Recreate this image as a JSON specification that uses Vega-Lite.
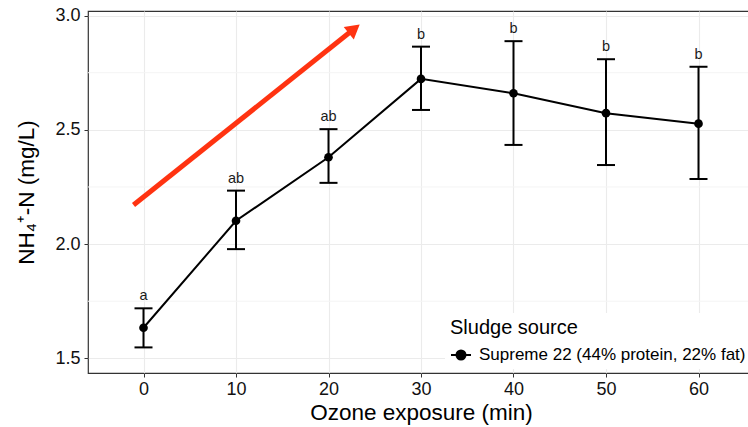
{
  "$schema": "https://vega.github.io/schema/vega-lite/v6.json",
  "width": 666,
  "height": 362,
  "autosize": "none",
  "padding": {"left": 88, "top": 11, "right": 0, "bottom": 54},
  "background": "white",
  "config": {
    "font": "Liberation Sans",
    "view": {"stroke": "#333333", "strokeWidth": 1.2},
    "axis": {
      "gridColor": "#EBEBEB",
      "gridWidth": 1.1,
      "domain": false,
      "tickColor": "#333333",
      "tickSize": 4,
      "labelColor": "#111111",
      "labelFontSize": 18,
      "titleColor": "#000000",
      "titleFontSize": 22.5,
      "titleFontWeight": "normal"
    }
  },
  "datasets": {
    "main": [
      {"time": 0, "mean": 1.634, "lo": 1.548, "hi": 1.719, "group": "a", "source": "Supreme 22 (44% protein, 22% fat)"},
      {"time": 10, "mean": 2.102, "lo": 1.978, "hi": 2.234, "group": "ab", "source": "Supreme 22 (44% protein, 22% fat)"},
      {"time": 20, "mean": 2.380, "lo": 2.268, "hi": 2.503, "group": "ab", "source": "Supreme 22 (44% protein, 22% fat)"},
      {"time": 30, "mean": 2.723, "lo": 2.587, "hi": 2.864, "group": "b", "source": "Supreme 22 (44% protein, 22% fat)"},
      {"time": 40, "mean": 2.660, "lo": 2.434, "hi": 2.888, "group": "b", "source": "Supreme 22 (44% protein, 22% fat)"},
      {"time": 50, "mean": 2.573, "lo": 2.346, "hi": 2.809, "group": "b", "source": "Supreme 22 (44% protein, 22% fat)"},
      {"time": 60, "mean": 2.527, "lo": 2.285, "hi": 2.776, "group": "b", "source": "Supreme 22 (44% protein, 22% fat)"}
    ],
    "minor": [{"v": 1.75}, {"v": 2.25}, {"v": 2.75}],
    "arrow": [{"x": -1.08, "y": 2.171, "x2": 22.78, "y2": 2.942}]
  },
  "encoding": {
    "x": {
      "type": "quantitative",
      "scale": {"domain": [-6, 66], "nice": false, "zero": false},
      "axis": {"values": [0, 10, 20, 30, 40, 50, 60], "title": "Ozone exposure (min)", "labelPadding": 3, "titlePadding": 3}
    },
    "y": {
      "type": "quantitative",
      "scale": {"domain": [1.436, 3.02], "nice": false, "zero": false},
      "axis": {"values": [1.5, 2.0, 2.5, 3.0], "format": ".1f", "title": "NH₄⁺-N (mg/L)", "labelPadding": 4, "titlePadding": 16}
    }
  },
  "layer": [
    {
      "data": {"name": "minor"},
      "mark": {"type": "rule", "color": "#F4F4F4", "strokeWidth": 1},
      "encoding": {"y": {"field": "v", "type": "quantitative"}}
    },
    {
      "data": {"name": "arrow"},
      "mark": {"type": "rule", "color": "#FF3311", "strokeWidth": 5, "strokeCap": "butt"},
      "encoding": {
        "x": {"field": "x", "type": "quantitative"},
        "y": {"field": "y", "type": "quantitative"},
        "x2": {"field": "x2"},
        "y2": {"field": "y2"}
      }
    },
    {
      "data": {"name": "arrow"},
      "mark": {"type": "point", "shape": "triangle-up", "filled": true, "color": "#FF3311", "opacity": 1, "size": 260, "angle": 51.4},
      "encoding": {
        "x": {"field": "x2", "type": "quantitative"},
        "y": {"field": "y2", "type": "quantitative"}
      }
    },
    {
      "data": {"name": "main"},
      "mark": {"type": "rule", "color": "black", "strokeWidth": 2},
      "encoding": {
        "x": {"field": "time", "type": "quantitative"},
        "y": {"field": "lo", "type": "quantitative"},
        "y2": {"field": "hi"}
      }
    },
    {
      "data": {"name": "main"},
      "mark": {"type": "tick", "orient": "horizontal", "color": "black", "size": 18, "thickness": 2, "opacity": 1},
      "encoding": {
        "x": {"field": "time", "type": "quantitative"},
        "y": {"field": "lo", "type": "quantitative"}
      }
    },
    {
      "data": {"name": "main"},
      "mark": {"type": "tick", "orient": "horizontal", "color": "black", "size": 18, "thickness": 2, "opacity": 1},
      "encoding": {
        "x": {"field": "time", "type": "quantitative"},
        "y": {"field": "hi", "type": "quantitative"}
      }
    },
    {
      "data": {"name": "main"},
      "mark": {"type": "line", "strokeWidth": 2},
      "encoding": {
        "x": {"field": "time", "type": "quantitative"},
        "y": {"field": "mean", "type": "quantitative"},
        "color": {
          "field": "source",
          "type": "nominal",
          "scale": {"range": ["black"]},
          "legend": {
            "title": "Sludge source",
            "orient": "none",
            "legendX": 357,
            "legendY": 302,
            "padding": 5,
            "fillColor": "white",
            "titleFontSize": 20,
            "titleFontWeight": "normal",
            "titleColor": "#000000",
            "titlePadding": 6,
            "labelFontSize": 17,
            "labelColor": "#000000",
            "labelOffset": 7,
            "labelLimit": 0,
            "symbolType": "M-1,0H1M-0.45,0A0.45,0.45 0 1,0 0.45,0A0.45,0.45 0 1,0 -0.45,0Z",
            "symbolSize": 400,
            "symbolFillColor": "black",
            "symbolStrokeColor": "black",
            "symbolStrokeWidth": 2
          }
        }
      }
    },
    {
      "data": {"name": "main"},
      "mark": {"type": "point", "filled": true, "color": "black", "opacity": 1, "size": 75},
      "encoding": {
        "x": {"field": "time", "type": "quantitative"},
        "y": {"field": "mean", "type": "quantitative"}
      }
    },
    {
      "data": {"name": "main"},
      "mark": {"type": "text", "fontSize": 14.5, "color": "#1a1a1a", "baseline": "alphabetic", "dy": -8},
      "encoding": {
        "x": {"field": "time", "type": "quantitative"},
        "y": {"field": "hi", "type": "quantitative"},
        "text": {"field": "group"}
      }
    }
  ]
}
